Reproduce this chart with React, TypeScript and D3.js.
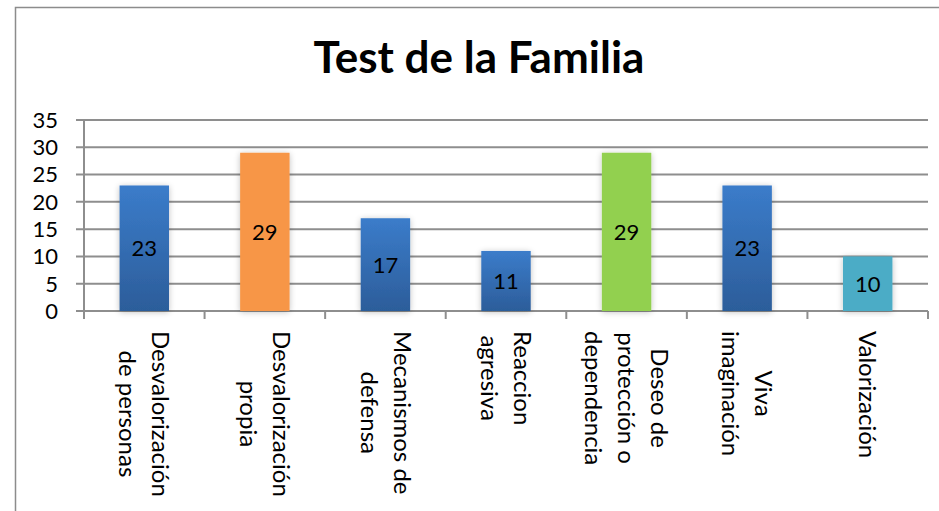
import React from "react";
import * as d3 from "d3";

const categories: string[][] = [
  ["Desvalorización", "de personas"],
  ["Desvalorización", "propia"],
  ["Mecanismos de", "defensa"],
  ["Reaccion", "agresiva"],
  ["Deseo de", "protección o", "dependencia"],
  ["Viva", "imaginación"],
  ["Valorización"],
];
const values: number[] = [23, 29, 17, 11, 29, 23, 10];
const barColors: string[] = ["blue", "#F79646", "blue", "blue", "#92D050", "blue", "#4BACC6"];
const yTicks: number[] = [0, 5, 10, 15, 20, 25, 30, 35];
const title = "Test de la Familia";

const W = 939;
const H = 511;
const FONT = "Lato, 'Open Sans', sans-serif";
const LABEL_SIZE = 24;

function measure(text: string, size: number): number {
  if (typeof document === "undefined") return text.length * size * 0.5;
  const c = document.createElement("canvas").getContext("2d");
  if (!c) return text.length * size * 0.5;
  c.font = `${size}px Lato`;
  return c.measureText(text).width;
}

export default function App() {
  const x0 = 84, x1 = 928, y0 = 311, y1 = 120;
  const x = d3
    .scaleBand<number>()
    .domain(values.map((_, i) => i))
    .range([x0, x1])
    .paddingInner(0.59)
    .paddingOuter(0.295);
  const y = d3.scaleLinear().domain([0, 35]).range([y0, y1]);
  const step = x.step();

  return (
    <div style={{ position: "absolute", left: 0, top: 0, width: W, height: H, background: "#fff" }}>
      <svg width={W} height={H} style={{ display: "block" }}>
        <defs>
          <linearGradient id="blueGrad" x1="0" y1="0" x2="0" y2="1">
            <stop offset="0%" stopColor="#3B7CCA" />
            <stop offset="100%" stopColor="#2C5D9A" />
          </linearGradient>
          <filter id="shadow" x="-30%" y="-10%" width="160%" height="120%">
            <feGaussianBlur in="SourceAlpha" stdDeviation="3" />
            <feOffset dx="0" dy="1" result="b" />
            <feComponentTransfer>
              <feFuncA type="linear" slope="0.25" />
            </feComponentTransfer>
            <feMerge>
              <feMergeNode />
              <feMergeNode in="SourceGraphic" />
            </feMerge>
          </filter>
        </defs>
        <rect x={15.5} y={7.5} width={W} height={H} fill="#fff" stroke="#8c8c8c" strokeWidth={1.5} />
        <text
          x={479}
          y={73}
          textAnchor="middle"
          fontFamily={FONT}
          fontWeight="bold"
          fontSize={44}
          fill="#000"
        >
          {title}
        </text>
        {yTicks.map((t) => (
          <g key={t}>
            <line x1={76} x2={x1} y1={y(t)} y2={y(t)} stroke="#8E8E8E" strokeWidth={2} />
            <text
              x={58}
              y={y(t)}
              dy="0.36em"
              textAnchor="end"
              fontFamily={FONT}
              fontSize={22}
              fill="#000"
            >
              {t}
            </text>
          </g>
        ))}
        <line x1={x0} x2={x0} y1={y1} y2={y0 + 8} stroke="#8E8E8E" strokeWidth={2} />
        {d3.range(values.length + 1).map((i) => (
          <line
            key={i}
            x1={x0 + i * step}
            x2={x0 + i * step}
            y1={y0}
            y2={y0 + 8}
            stroke="#8E8E8E"
            strokeWidth={2}
          />
        ))}
        {values.map((v, i) => (
          <rect
            key={i}
            x={x(i)}
            y={y(v)}
            width={x.bandwidth()}
            height={y0 - y(v)}
            fill={barColors[i] === "blue" ? "url(#blueGrad)" : barColors[i]}
            filter="url(#shadow)"
          />
        ))}
        {values.map((v, i) => (
          <text
            key={i}
            x={(x(i) as number) + x.bandwidth() / 2}
            y={(y(v) + y0) / 2}
            dy="0.36em"
            textAnchor="middle"
            fontFamily={FONT}
            fontSize={22}
            fill="#000"
          >
            {v}
          </text>
        ))}
        {categories.map((lines, i) => {
          const cx = x0 + (i + 0.5) * step;
          const lh = 33;
          const n = lines.length;
          const maxW = Math.max(...lines.map((l) => measure(l, LABEL_SIZE)));
          return (
            <g key={i} transform={`translate(${cx},${331 + maxW / 2}) rotate(90)`}>
              {lines.map((ln, j) => (
                <text
                  key={j}
                  x={0}
                  y={(j - (n - 1) / 2) * lh}
                  dy="0.35em"
                  textAnchor="middle"
                  fontFamily={FONT}
                  fontSize={LABEL_SIZE}
                  fill="#000"
                >
                  {ln}
                </text>
              ))}
            </g>
          );
        })}
      </svg>
    </div>
  );
}
